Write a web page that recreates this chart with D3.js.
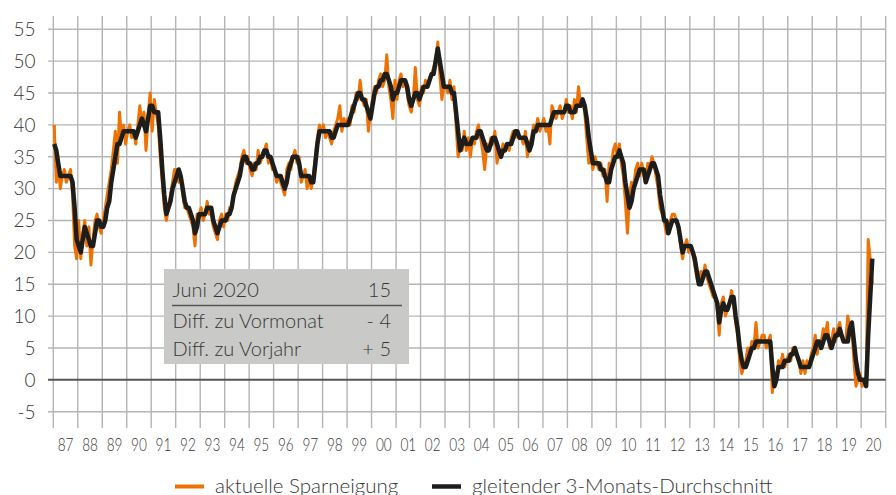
<!DOCTYPE html>
<html>
<head>
<meta charset="utf-8">
<script src="https://cdn.jsdelivr.net/npm/d3@7"></script>
<style>
    body { margin: 0; background: #fff; }
    svg text { font-family: Lato, "Open Sans", sans-serif; font-weight: 300; fill: #363636; }
</style>
</head>
<body>
<div id="chart"></div>
<script>
//// ============================================ DATA ============================================ ////

var startYear = 1987;

// aktuelle Sparneigung, monthly, Jan 1987 - Jun 2020
var sparneigung = [
    40, 31, 34, 30, 32, 33, 31, 32, 33, 29, 21, 19,   // 1987
    25, 19, 23, 25, 21, 24, 18, 22, 25, 26, 24, 23,   // 1988
    25, 27, 29, 31, 33, 36, 39, 34, 42, 38, 40, 37,   // 1989
    39, 40, 38, 39, 37, 40, 43, 40, 42, 36, 41, 45,   // 1990
    39, 44, 42, 40, 35, 31, 27, 25, 27, 29, 31, 33,   // 1991
    33, 31, 32, 29, 27, 27, 26, 25, 24, 21, 26, 26,   // 1992
    27, 25, 26, 28, 26, 26, 24, 23, 22, 25, 26, 24,   // 1993
    26, 25, 27, 27, 29, 31, 32, 33, 35, 36, 34, 35,   // 1994
    33, 32, 34, 33, 36, 34, 35, 36, 37, 34, 35, 33,   // 1995
    33, 31, 32, 31, 30, 29, 33, 34, 33, 35, 36, 34,   // 1996
    35, 31, 32, 33, 30, 32, 30, 32, 35, 38, 40, 39,   // 1997
    40, 38, 39, 38, 37, 39, 40, 41, 43, 39, 41, 40,   // 1998
    41, 40, 43, 42, 45, 44, 47, 44, 43, 44, 39, 42,   // 1999
    44, 46, 45, 47, 48, 46, 47, 51, 46, 44, 41, 47,   // 2000
    44, 47, 48, 46, 47, 45, 43, 42, 44, 49, 44, 43,   // 2001
    46, 45, 47, 46, 47, 48, 49, 50, 53, 48, 44, 46,   // 2002
    46, 45, 47, 44, 46, 40, 35, 37, 36, 39, 36, 38,   // 2003
    35, 38, 37, 39, 40, 38, 36, 33, 37, 36, 38, 37,   // 2004
    39, 34, 36, 35, 37, 36, 37, 36, 38, 39, 38, 39,   // 2005
    38, 38, 37, 39, 35, 37, 38, 40, 39, 41, 39, 40,   // 2006
    41, 39, 40, 37, 43, 42, 41, 42, 43, 41, 42, 44,   // 2007
    42, 43, 41, 44, 42, 46, 43, 44, 42, 38, 34, 35,   // 2008
    33, 35, 34, 33, 34, 32, 33, 28, 34, 33, 36, 37,   // 2009
    35, 37, 34, 32, 28, 23, 29, 31, 30, 33, 34, 32,   // 2010
    34, 32, 31, 34, 33, 35, 34, 32, 30, 27, 26, 25,   // 2011
    23, 24, 25, 26, 26, 25, 24, 21, 19, 21, 22, 20,   // 2012
    21, 20, 18, 16, 15, 17, 16, 18, 16, 15, 14, 13,   // 2013
    13, 11, 7, 12, 13, 10, 11, 12, 14, 12, 9, 7,      // 2014
    3, 1, 2, 3, 5, 4, 6, 5, 9, 5, 6, 7,               // 2015
    7, 5, 6, 7, -2, 1, 0, 3, 2, 4, 2, 3,              // 2016
    4, 3, 5, 5, 4, 3, 1, 3, 1, 3, 2, 4,               // 2017
    5, 7, 4, 6, 6, 8, 7, 9, 5, 6, 8, 6,               // 2018
    8, 9, 7, 6, 6, 10, 8, 8, 3, -1, 0, 1,             // 2019
    -1, 0, -1, 22, 19, 15                             // 2020
];

// gleitender 3-Monats-Durchschnitt
var durchschnitt = [
    37, 36, 34, 32, 32, 32, 32, 32, 32, 31, 27, 22,   // 1987
    21, 20, 22, 24, 23, 22, 21, 21, 23, 25, 25, 24,   // 1988
    24, 25, 27, 28, 31, 33, 35, 37, 37, 38, 39, 39,   // 1989
    39, 39, 39, 39, 38, 39, 40, 41, 40, 39, 41, 43,   // 1990
    43, 42, 42, 42, 38, 33, 29, 26, 27, 28, 30, 31,   // 1991
    32, 33, 32, 30, 28, 27, 27, 26, 25, 23, 24, 26,   // 1992
    26, 26, 26, 27, 27, 27, 25, 24, 23, 24, 25, 25,   // 1993
    25, 26, 26, 27, 29, 30, 31, 32, 34, 35, 35, 34,   // 1994
    34, 33, 33, 34, 34, 35, 35, 36, 36, 35, 35, 34,   // 1995
    33, 32, 32, 32, 31, 30, 31, 33, 34, 35, 35, 35,   // 1996
    34, 32, 32, 32, 32, 32, 31, 31, 34, 37, 39, 39,   // 1997
    39, 39, 39, 39, 38, 38, 39, 40, 40, 40, 40, 40,   // 1998
    40, 41, 42, 43, 44, 45, 45, 44, 44, 43, 42, 41,   // 1999
    43, 45, 46, 46, 47, 47, 48, 48, 47, 46, 44, 45,   // 2000
    45, 46, 47, 47, 47, 46, 44, 43, 44, 45, 45, 44,   // 2001
    45, 46, 46, 46, 47, 48, 48, 50, 52, 50, 48, 46,   // 2002
    46, 46, 46, 45, 45, 42, 39, 36, 37, 38, 37, 37,   // 2003
    37, 38, 38, 38, 39, 39, 38, 37, 36, 36, 37, 38,   // 2004
    38, 37, 36, 35, 36, 36, 37, 37, 37, 38, 39, 39,   // 2005
    38, 38, 38, 38, 37, 36, 37, 39, 39, 40, 40, 40,   // 2006
    40, 40, 40, 40, 41, 42, 42, 42, 42, 42, 42, 43,   // 2007
    43, 42, 42, 42, 43, 43, 43, 44, 43, 41, 38, 36,   // 2008
    34, 34, 34, 34, 33, 33, 32, 31, 31, 33, 34, 35,   // 2009
    35, 36, 35, 34, 31, 29, 27, 28, 30, 31, 32, 33,   // 2010
    33, 33, 31, 32, 33, 34, 34, 33, 32, 29, 27, 25,   // 2011
    25, 23, 24, 25, 25, 25, 24, 22, 20, 21, 21, 21,   // 2012
    21, 20, 19, 17, 15, 15, 16, 17, 17, 16, 15, 14,   // 2013
    13, 12, 9, 11, 12, 11, 11, 12, 13, 13, 10, 8,     // 2014
    5, 3, 2, 2, 3, 4, 5, 5, 6, 6, 6, 6,               // 2015
    6, 6, 6, 6, 2, -1, 0, 2, 2, 2, 3, 3,              // 2016
    3, 4, 4, 5, 4, 3, 2, 2, 2, 2, 2, 3,               // 2017
    4, 5, 6, 6, 5, 6, 7, 7, 6, 5, 6, 7,               // 2018
    7, 8, 7, 6, 6, 6, 8, 9, 6, 3, 1, 0,               // 2019
    0, 0, -1, 7, 13, 19                               // 2020
];

var yTicks = [-5, 0, 5, 10, 15, 20, 25, 30, 35, 40, 45, 50, 55];

var yearLabels = ["87", "88", "89", "90", "91", "92", "93", "94", "95", "96", "97", "98",
    "99", "00", "01", "02", "03", "04", "05", "06", "07", "08", "09", "10", "11", "12",
    "13", "14", "15", "16", "17", "18", "19", "20"];

var boxLabels = ["Juni 2020", "Diff. zu Vormonat", "Diff. zu Vorjahr"];
var boxValues = ["15", "- 4", "+ 5"];

var legendNames = ["aktuelle Sparneigung", "gleitender 3-Monats-Durchschnitt"];

//// ============================================ LAYOUT ============================================ ////

var width = 896,
    height = 495;
var plotLeft = 53.3,
    plotRight = 885.7,
    gridTop = 16,
    gridBottom = 428;
var colorOrange = "#ee7203",
    colorBlack = "#1d1d1b",
    colorGrid = "#b4b4b4";

var svg = d3.select("#chart").append("svg")
    .attr("width", width)
    .attr("height", height);

var x = d3.scaleTime()
    .domain([new Date(startYear, 0, 1), new Date(startYear + yearLabels.length, 0, 1)])
    .range([plotLeft, plotRight]);

var y = d3.scaleLinear()
    .domain([-5, 55])
    .range([411.7, 29.3]);

function monthDate(i) {
    return new Date(startYear, i, 15);
}

//// ============================================ GRID ============================================ ////

var years = d3.range(startYear, startYear + yearLabels.length + 1);

svg.append("g").selectAll("line")
    .data(years)
    .enter().append("line")
    .attr("x1", function(d) { return x(new Date(d, 0, 1)); })
    .attr("x2", function(d) { return x(new Date(d, 0, 1)); })
    .attr("y1", gridTop)
    .attr("y2", gridBottom)
    .style("stroke", colorGrid)
    .style("stroke-width", 1.4);

svg.append("g").selectAll("line")
    .data(yTicks)
    .enter().append("line")
    .attr("x1", 48)
    .attr("x2", plotRight)
    .attr("y1", function(d) { return y(d); })
    .attr("y2", function(d) { return y(d); })
    .style("stroke", function(d) { return d == 0 ? "#555" : colorGrid; })
    .style("stroke-width", function(d) { return d == 0 ? 2 : 1.4; });

// y labels
svg.append("g").selectAll("text")
    .data(yTicks)
    .enter().append("text")
    .attr("x", 35.5)
    .attr("y", function(d) { return y(d); })
    .attr("dy", ".36em")
    .style("text-anchor", "end")
    .style("font-size", "19px")
    .text(function(d) { return d < 0 ? "-" + Math.abs(d) : d; });

// x labels, centred in each year
svg.append("g").selectAll("text")
    .data(yearLabels)
    .enter().append("text")
    .attr("x", function(d, i) {
        return (x(new Date(startYear + i, 0, 1)) + x(new Date(startYear + i + 1, 0, 1))) / 2;
    })
    .attr("y", 451)
    .style("text-anchor", "middle")
    .style("font-size", "18px")
    .attr("textLength", 15.8)
    .attr("lengthAdjust", "spacingAndGlyphs")
    .text(function(d) { return d; });

//// ============================================ LINES ============================================ ////

var line = d3.line()
    .x(function(d, i) { return x(monthDate(i)); })
    .y(function(d) { return y(d); });

svg.append("path")
    .datum(sparneigung)
    .attr("d", line)
    .style("fill", "none")
    .style("stroke", colorOrange)
    .style("stroke-width", 3)
    .style("stroke-linejoin", "round");

svg.append("path")
    .datum(durchschnitt)
    .attr("d", line)
    .style("fill", "none")
    .style("stroke", colorBlack)
    .style("stroke-width", 4.5)
    .style("stroke-linejoin", "round");

//// ============================================ INFO BOX ============================================ ////

var box = svg.append("g");

box.append("rect")
    .attr("x", 164)
    .attr("y", 269)
    .attr("width", 245)
    .attr("height", 95)
    .style("fill", "#c9cac8");

box.append("line")
    .attr("x1", 172)
    .attr("x2", 402)
    .attr("y1", 305.5)
    .attr("y2", 305.5)
    .style("stroke", "#555")
    .style("stroke-width", 1.6);

box.selectAll(".box-label")
    .data(boxLabels)
    .enter().append("text")
    .attr("class", "box-label")
    .attr("x", 172.5)
    .attr("y", function(d, i) { return i == 0 ? 297 : 328 + (i - 1) * 28; })
    .style("font-size", "20px")
    .text(function(d) { return d; });

box.selectAll(".box-value")
    .data(boxValues)
    .enter().append("text")
    .attr("class", "box-value")
    .attr("x", 391)
    .attr("y", function(d, i) { return i == 0 ? 297 : 328 + (i - 1) * 28; })
    .style("text-anchor", "end")
    .style("font-size", "20px")
    .text(function(d) { return d; });

//// ============================================ LEGEND ============================================ ////

var legendPos = [{ x: 175, color: colorOrange, w: 4 }, { x: 432, color: colorBlack, w: 4.5 }];

var legend = svg.append("g").selectAll("g")
    .data(legendNames)
    .enter().append("g")
    .attr("transform", function(d, i) { return "translate(" + legendPos[i].x + ",486.5)"; });

legend.append("line")
    .attr("x1", 0)
    .attr("x2", 29)
    .style("stroke", function(d, i) { return legendPos[i].color; })
    .style("stroke-width", function(d, i) { return legendPos[i].w; });

legend.append("text")
    .attr("x", 40)
    .attr("y", 6)
    .style("font-size", "20.5px")
    .text(function(d) { return d; });
</script>
</body>
</html>
